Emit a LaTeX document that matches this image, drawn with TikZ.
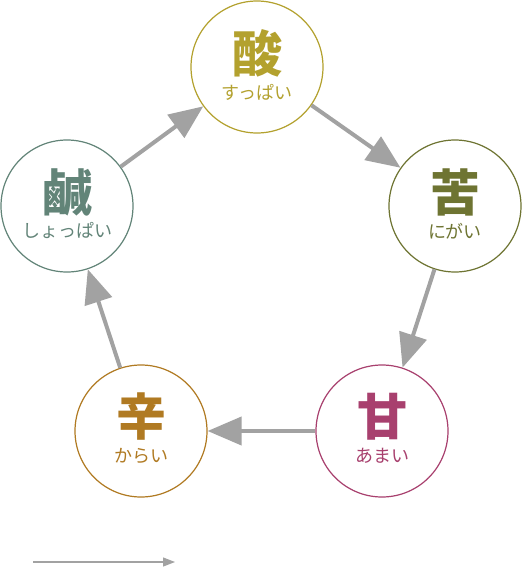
\documentclass[tikz,border=0pt]{standalone}
\usepackage{fontspec}
\newfontfamily\cjk{Noto Sans CJK JP}
\usetikzlibrary{arrows.meta}
\definecolor{csan}{HTML}{B3A12E}
\definecolor{cku}{HTML}{6E7432}
\definecolor{ckan}{HTML}{628478}
\definecolor{camai}{HTML}{A8406E}
\definecolor{ckara}{HTML}{B07A22}
\definecolor{arrowgray}{HTML}{A2A2A2}
\begin{document}
\begin{tikzpicture}[x=1pt,y=-1pt,
  taste/.style={circle,draw=#1,line width=1.2pt,minimum size=132pt,inner sep=0pt,fill=white},
  bigk/.style={text=#1,inner sep=0pt,font=\cjk\bfseries\fontsize{50}{50}\selectfont},
  kana/.style={text=#1,inner sep=0pt,font=\cjk\fontsize{18}{18}\selectfont},
  flow/.style={draw=arrowgray,line width=4pt,-{Triangle[length=34pt,width=28pt]}},
  legend/.style={draw=arrowgray,line width=1.2pt,-{Triangle[length=12pt,width=9pt]}}]
\useasboundingbox (0,0) rectangle (524,570);
% circles
\node[taste=csan]  (san)  at (257,67)  {};
\node[taste=cku]   (ku)   at (455,206) {};
\node[taste=camai] (amai) at (382,431) {};
\node[taste=ckara] (kara) at (141,431) {};
\node[taste=ckan]  (kan)  at (67,206)  {};
% texts
\node[bigk=csan] (sanK) at ([yshift=14pt]san.center) {酸};
\node[kana=csan] (sanH) at ([yshift=-25pt]san.center) {すっぱい};
\node[bigk=cku] (kuK) at ([yshift=14pt]ku.center) {苦};
\node[kana=cku] (kuH) at ([yshift=-25pt]ku.center) {にがい};
\node[bigk=camai] (amaiK) at ([yshift=14pt]amai.center) {甘};
\node[kana=camai] (amaiH) at ([yshift=-25pt]amai.center) {あまい};
\node[bigk=ckara] (karaK) at ([yshift=14pt]kara.center) {辛};
\node[kana=ckara] (karaH) at ([yshift=-25pt]kara.center) {からい};
\node[bigk=ckan] (kanK) at ([yshift=14pt]kan.center) {鹹};
\node[kana=ckan] (kanH) at ([yshift=-25pt]kan.center) {しょっぱい};
% arrows
\draw[flow] (kan) -- (san);
\draw[flow] (san) -- (ku);
\draw[flow] (ku) -- (amai);
\draw[flow] (amai) -- (kara);
\draw[flow] (kara) -- (kan);
% legend arrow
\coordinate (l0) at (33,562);
\coordinate (l1) at (175,562);
\draw[legend] (l0) -- (l1);
\end{tikzpicture}
\end{document}
